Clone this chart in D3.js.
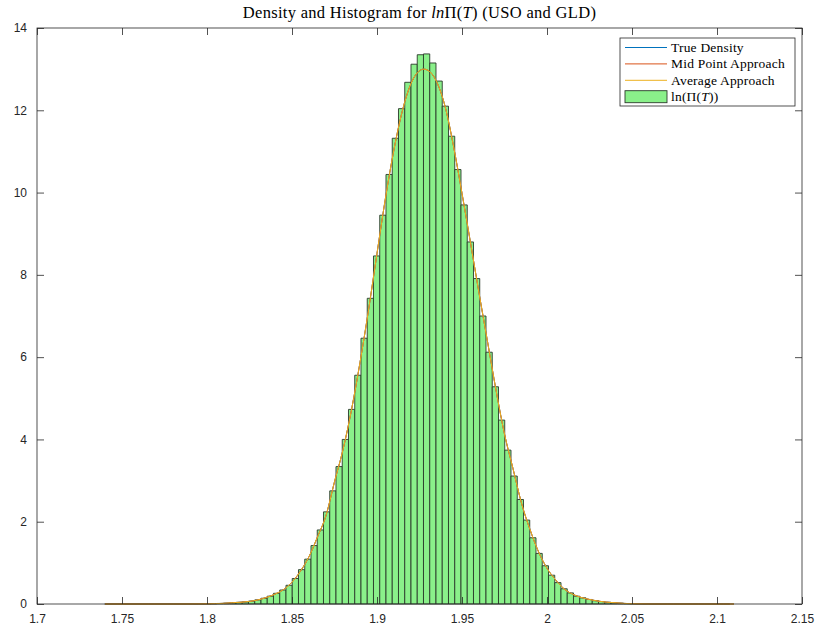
<!DOCTYPE html>
<html>
<head>
<meta charset="utf-8">
<script src="https://cdn.jsdelivr.net/npm/d3@7"></script>
<style>
  html, body { margin: 0; padding: 0; background: #fff; }
  svg { display: block; }
</style>
</head>
<body>
<svg id="chart" width="820" height="630"></svg>
<script>
// ---------- data ----------
const titleText = "Density and Histogram for lnΠ(T) (USO and GLD)";
const xTicks = [1.7, 1.75, 1.8, 1.85, 1.9, 1.95, 2, 2.05, 2.1, 2.15];
const xTickLabels = ["1.7", "1.75", "1.8", "1.85", "1.9", "1.95", "2", "2.05", "2.1", "2.15"];
const yTicks = [0, 2, 4, 6, 8, 10, 12, 14];
const yTickLabels = ["0", "2", "4", "6", "8", "10", "12", "14"];

// histogram: 100 bins, first edge and bin width
const binStart = 1.73985;
const binWidth = 0.0036765;
const histValues = [
  0, 0, 0, 0, 0, 0, 0, 0, 0, 0,
  0, 0, 0, 0, 0, 0.002, 0.004, 0.008, 0.013, 0.02,
  0.03, 0.04, 0.05, 0.07, 0.10, 0.14, 0.19, 0.26, 0.34, 0.455,
  0.62, 0.835, 1.09, 1.42, 1.80, 2.24, 2.75, 3.34, 4.00, 4.73,
  5.56, 6.46, 7.43, 8.46, 9.45, 10.44, 11.32, 12.04, 12.68, 13.12,
  13.35, 13.37, 13.15, 12.71, 12.10, 11.37, 10.56, 9.70, 8.80, 7.91,
  7.00, 6.12, 5.28, 4.47, 3.74, 3.11, 2.54, 2.04, 1.61, 1.23,
  0.93, 0.70, 0.52, 0.37, 0.27, 0.19, 0.15, 0.11, 0.08, 0.06,
  0.04, 0.03, 0.02, 0.01, 0.007, 0.004, 0.002, 0, 0, 0,
  0, 0, 0, 0, 0, 0, 0, 0, 0, 0
];

// density curves (the three approaches overlap in the picture)
const densityX = [1.74, 1.78, 1.79, 1.80, 1.805, 1.81, 1.815, 1.82, 1.825, 1.83,
  1.835, 1.84, 1.845, 1.85, 1.855, 1.86, 1.865, 1.87, 1.875, 1.88,
  1.885, 1.89, 1.895, 1.90, 1.905, 1.91, 1.915, 1.92, 1.925, 1.9275,
  1.93, 1.935, 1.94, 1.945, 1.95, 1.955, 1.96, 1.965, 1.97, 1.975,
  1.98, 1.985, 1.99, 1.995, 2.00, 2.005, 2.01, 2.015, 2.02, 2.025,
  2.03, 2.035, 2.04, 2.045, 2.05, 2.06, 2.07, 2.11];
const trueDensity = [0, 0, 0.001, 0.004, 0.009, 0.016, 0.03, 0.043, 0.063, 0.10,
  0.16, 0.24, 0.35, 0.53, 0.80, 1.15, 1.63, 2.15, 2.97, 3.75,
  4.72, 5.87, 7.14, 8.52, 9.87, 11.05, 12.0, 12.65, 12.96, 13.0,
  12.97, 12.7, 12.1, 11.13, 9.98, 8.78, 7.56, 6.38, 5.2, 4.13,
  3.29, 2.45, 1.81, 1.27, 0.87, 0.59, 0.37, 0.24, 0.16, 0.11,
  0.07, 0.045, 0.03, 0.015, 0.007, 0.001, 0, 0];
const midPointDensity = trueDensity;
const averageDensity = trueDensity;

const legendLabels = ["True Density", "Mid Point Approach", "Average Approach"];
const seriesColors = ["#0072BD", "#D95319", "#EDB120"];

// ---------- layout ----------
const svg = d3.select("#chart");
const L = 37, R = 802, T = 28, B = 604;
const x = d3.scaleLinear().domain([1.7, 2.15]).range([L, R]);
const y = d3.scaleLinear().domain([0, 14]).range([B, T]);
const axisColor = "#262626";
const tickFont = "'Liberation Sans', Arial, sans-serif";
const serifFont = "'Liberation Serif', 'Times New Roman', serif";

// histogram bars (paths so that zero-height bins still show their edge)
const bins = histValues.map((v, i) => ({ x0: binStart + i * binWidth, x1: binStart + (i + 1) * binWidth, v }));
svg.append("g").selectAll("path").data(bins).join("path")
  .attr("d", d => `M${x(d.x0)},${y(0)}V${y(d.v)}H${x(d.x1)}V${y(0)}Z`)
  .attr("fill", "#8af08a")
  .attr("stroke", "#2a3a2a")
  .attr("stroke-width", 0.9)
  .attr("stroke-linejoin", "miter");

// density lines
const line = d3.line().x(d => x(d[0])).y(d => y(d[1])).curve(d3.curveMonotoneX);
[trueDensity, midPointDensity, averageDensity].forEach((ys, k) => {
  svg.append("path")
    .datum(densityX.map((xv, i) => [xv, ys[i]]))
    .attr("d", line)
    .attr("fill", "none")
    .attr("stroke", seriesColors[k])
    .attr("stroke-width", 1);
});

// axes box
svg.append("rect").attr("x", L).attr("y", T).attr("width", R - L).attr("height", B - T)
  .attr("fill", "none").attr("stroke", axisColor).attr("stroke-width", 0.8);

// bottom axis
const xAxis = d3.axisBottom(x).tickValues(xTicks).tickSizeInner(-7).tickSizeOuter(0).tickPadding(10)
  .tickFormat((d, i) => xTickLabels[i]);
const gx = svg.append("g").attr("transform", `translate(0,${B})`).call(xAxis);
gx.select(".domain").remove();
gx.selectAll("line").attr("stroke", axisColor).attr("stroke-width", 0.8);
gx.selectAll("text").attr("font-family", tickFont).attr("font-size", 12).attr("fill", axisColor);

// top ticks
const gxt = svg.append("g").attr("transform", `translate(0,${T})`)
  .call(d3.axisTop(x).tickValues(xTicks).tickSizeInner(-7).tickSizeOuter(0).tickFormat(""));
gxt.select(".domain").remove();
gxt.selectAll("line").attr("stroke", axisColor).attr("stroke-width", 0.8);

// left axis
const yAxis = d3.axisLeft(y).tickValues(yTicks).tickSizeInner(-7).tickSizeOuter(0).tickPadding(10)
  .tickFormat((d, i) => yTickLabels[i]);
const gy = svg.append("g").attr("transform", `translate(${L},0)`).call(yAxis);
gy.select(".domain").remove();
gy.selectAll("line").attr("stroke", axisColor).attr("stroke-width", 0.8);
gy.selectAll("text").attr("font-family", tickFont).attr("font-size", 12).attr("fill", axisColor);

// right ticks
const gyr = svg.append("g").attr("transform", `translate(${R},0)`)
  .call(d3.axisRight(y).tickValues(yTicks).tickSizeInner(-7).tickSizeOuter(0).tickFormat(""));
gyr.select(".domain").remove();
gyr.selectAll("line").attr("stroke", axisColor).attr("stroke-width", 0.8);

// title
const title = svg.append("text").attr("x", (L + R) / 2).attr("y", 18)
  .attr("text-anchor", "middle").attr("font-family", serifFont).attr("font-size", 16.5)
  .attr("letter-spacing", 0.3).attr("fill", "#000");
title.append("tspan").text("Density and Histogram for ");
title.append("tspan").attr("font-style", "italic").text("ln");
title.append("tspan").text("Π(");
title.append("tspan").attr("font-style", "italic").text("T");
title.append("tspan").text(") (USO and GLD)");

// legend
const lg = svg.append("g");
const lx = 620, ly = 38, lw = 175, lh = 68;
lg.append("rect").attr("x", lx).attr("y", ly).attr("width", lw).attr("height", lh)
  .attr("fill", "#fff").attr("stroke", axisColor).attr("stroke-width", 0.8);
legendLabels.forEach((lab, k) => {
  const yy = ly + 9.5 + k * 16.4;
  lg.append("line").attr("x1", lx + 5).attr("x2", lx + 47).attr("y1", yy).attr("y2", yy)
    .attr("stroke", seriesColors[k]).attr("stroke-width", 1);
  lg.append("text").attr("x", lx + 51).attr("y", yy + 4.5)
    .attr("font-family", serifFont).attr("font-size", 13.5).attr("letter-spacing", 0.2)
    .attr("fill", "#000").text(lab);
});
{
  const yy = ly + 9.5 + 3 * 16.4;
  lg.append("rect").attr("x", lx + 5).attr("y", yy - 6).attr("width", 42).attr("height", 12)
    .attr("fill", "#8af08a").attr("stroke", "#2a3a2a").attr("stroke-width", 0.9);
  const t = lg.append("text").attr("x", lx + 51).attr("y", yy + 4.5)
    .attr("font-family", serifFont).attr("font-size", 13.5).attr("letter-spacing", 0.2)
    .attr("fill", "#000");
  t.append("tspan").text("ln(Π(");
  t.append("tspan").attr("font-style", "italic").text("T");
  t.append("tspan").text("))");
}
</script>
</body>
</html>
